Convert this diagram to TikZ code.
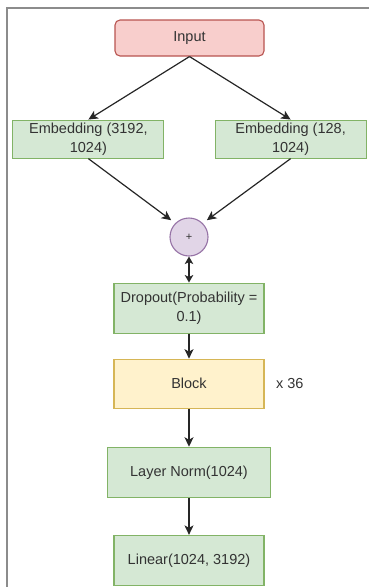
\documentclass[tikz,border=0pt]{standalone}
\usepackage{fontspec}
\setmainfont{Liberation Sans}
\usepackage{xcolor}
\usepackage{tikz}
\usetikzlibrary{arrows.meta,positioning}
\definecolor{inputfill}{HTML}{F8CECC}
\definecolor{inputline}{HTML}{B85450}
\definecolor{layerfill}{HTML}{D5E8D4}
\definecolor{layerline}{HTML}{82B366}
\definecolor{blockfill}{HTML}{FFF2CC}
\definecolor{blockline}{HTML}{D6B656}
\definecolor{sumfill}{HTML}{E1D5E7}
\definecolor{sumline}{HTML}{9673A6}
\definecolor{textgray}{HTML}{333333}
\definecolor{framegray}{HTML}{8C8C8C}

\begin{document}
\begin{tikzpicture}[
    x=1pt,y=1pt,
    node distance=25pt,
    base/.style={inner sep=0pt,align=center,text=textgray,line width=1.1pt,font=\fontsize{14.5}{19}\selectfont},
    inputbox/.style={base,draw=inputline,fill=inputfill,rounded corners=5pt,minimum width=149pt,minimum height=36pt},
    layerbox/.style={base,draw=layerline,fill=layerfill,minimum width=150pt,minimum height=50pt},
    embbox/.style={layerbox,minimum width=151pt,minimum height=38pt},
    blockbox/.style={base,draw=blockline,fill=blockfill,minimum width=150pt,minimum height=49pt},
    sumnode/.style={circle,inner sep=0pt,minimum size=38pt,draw=sumline,fill=sumfill,line width=1.1pt,text=textgray,font=\fontsize{11}{12}\selectfont},
    arrow/.style={-{Stealth[length=9.5pt,width=9pt,inset=2.5pt]},line width=1.2pt,draw=black!85},
    twoway/.style={{Stealth[length=7.5pt,width=8.5pt,inset=2pt]}-{Stealth[length=7.5pt,width=8.5pt,inset=2pt]},line width=1.2pt,draw=black!85}
  ]
    \useasboundingbox (0,0) rectangle (369,-587);
    \draw[framegray,line width=2pt] (6.5,-587) -- (6.5,-7.5) -- (369,-7.5);

    \node[inputbox] (input) at (189.5,-38) {Input};
    \node[embbox,below left=63pt and -50pt of input] (embword) {Embedding (3192,\\1024)};
    \node[embbox,below right=63pt and -50pt of input] (embpos) {Embedding (128,\\1024)};
    \node[sumnode] (sum) at (189,-237) {+};
    \node[layerbox,below=26pt of sum] (dropout) {Dropout(Probability =\\0.1)};
    \node[blockbox,below=25pt of dropout] (block) {Block};
    \node[base,right=11pt of block] (repeat) {x 36};
    \node[layerbox,below=38pt of block,minimum width=163pt] (norm) {Layer Norm(1024)};
    \node[layerbox,below=37pt of norm] (linear) {Linear(1024, 3192)};

    \draw[arrow] (input.south) -- (embword.north);
    \draw[arrow] (input.south) -- (embpos.north);
    \draw[arrow,shorten >=5pt] (embword.south) -- (sum.north west);
    \draw[arrow,shorten >=5pt] (embpos.south) -- (sum.north east);
    \draw[twoway] (sum) -- (dropout);
    \draw[arrow] (dropout) -- (block);
    \draw[arrow] (block) -- (norm);
    \draw[arrow] (norm) -- (linear);
  \end{tikzpicture}
\end{document}
